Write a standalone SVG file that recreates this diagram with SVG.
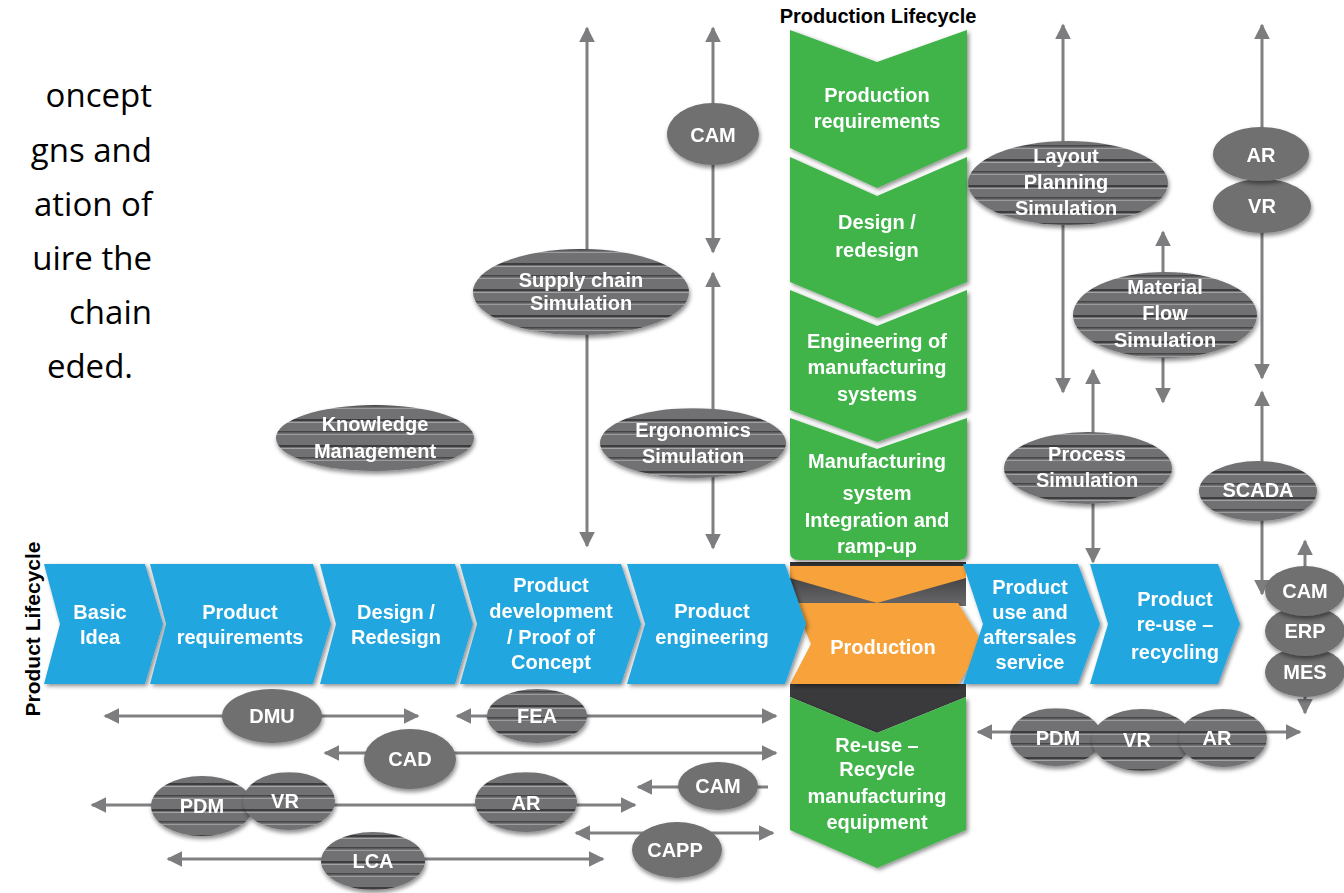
<svg xmlns="http://www.w3.org/2000/svg" width="1344" height="893" viewBox="0 0 1344 893">
<defs>
<style>
.lbl{font-family:"Liberation Sans",Arial,sans-serif;font-weight:bold;font-size:20px;fill:#fff;text-anchor:middle}
.ttl{font-family:"Liberation Sans",Arial,sans-serif;font-weight:bold;font-size:20px;fill:#000;text-anchor:middle}
.para{font-family:"Open Sans","Noto Sans",sans-serif;font-size:33px;fill:#000;text-anchor:end}
.blue{fill:#22a6df}
.green{fill:#3fb34a}
.orange{fill:#f7a23a}
.pl{fill:#6f6f71}
.st{fill:url(#stripes)}
.conn{stroke:#808082;stroke-width:3;fill:none}
.both{marker-start:url(#ah);marker-end:url(#ah)}
.end{marker-end:url(#ah)}
.start{marker-start:url(#ah)}
</style>
<pattern id="stripes" patternUnits="userSpaceOnUse" width="20" height="26">
<rect width="20" height="26" fill="#717173"/>
<rect y="3" width="20" height="2" fill="#3e3e40"/>
<rect y="6" width="20" height="1" fill="#a3a3a5"/>
<rect y="15" width="20" height="1.5" fill="#444446"/>
<rect y="18" width="20" height="1" fill="#9c9c9e"/>
</pattern>
<marker id="ah" viewBox="0 0 10 10" refX="9" refY="5" markerWidth="16" markerHeight="16" markerUnits="userSpaceOnUse" orient="auto-start-reverse">
<path d="M0,0 L10,5 L0,10 z" fill="#7d7d7f"/>
</marker>
<filter id="sh" x="-20%" y="-20%" width="140%" height="150%">
<feDropShadow dx="1" dy="3" stdDeviation="2" flood-color="#000" flood-opacity="0.45"/>
</filter>
<filter id="csh" x="-10%" y="-10%" width="120%" height="125%">
<feDropShadow dx="2" dy="2" stdDeviation="2" flood-color="#000" flood-opacity="0.45"/>
</filter>
<linearGradient id="dk" x1="0" y1="0" x2="0" y2="1">
<stop offset="0" stop-color="#2f2f31"/>
<stop offset="1" stop-color="#6a6a6c"/>
</linearGradient>
</defs>
<rect width="1344" height="893" fill="#fff"/>

<g id="paragraph">
<text class="para" x="152" y="107">oncept</text>
<text class="para" x="152" y="162">gns and</text>
<text class="para" x="152" y="216">ation of</text>
<text class="para" x="152" y="270">uire the</text>
<text class="para" x="152" y="324">chain</text>
<text class="para" x="133" y="378">eded.</text>
</g>

<g id="titles">
<text class="ttl" x="878" y="23">Production Lifecycle</text>
<text class="ttl" style="font-size:21px" transform="translate(40,629) rotate(-90)" x="0" y="0">Product Lifecycle</text>
</g>

<g id="connectors">
<line class="conn both" x1="587" y1="28" x2="587" y2="546"/>
<line class="conn both" x1="713" y1="28" x2="713" y2="252"/>
<line class="conn both" x1="713" y1="273" x2="713" y2="548"/>
<line class="conn both" x1="1063" y1="25" x2="1063" y2="392"/>
<line class="conn both" x1="1262" y1="25" x2="1262" y2="378"/>
<line class="conn both" x1="1262" y1="392" x2="1262" y2="594"/>
<line class="conn both" x1="1163" y1="232" x2="1163" y2="402"/>
<line class="conn both" x1="1093" y1="370" x2="1093" y2="562"/>
<line class="conn both" x1="1305" y1="541" x2="1305" y2="713"/>
<line class="conn both" x1="105" y1="716" x2="418" y2="716"/>
<line class="conn both" x1="457" y1="716" x2="776" y2="716"/>
<line class="conn both" x1="325" y1="753" x2="776" y2="753"/>
<line class="conn both" x1="92" y1="805" x2="635" y2="805"/>
<line class="conn start" x1="638" y1="787" x2="768" y2="787"/>
<line class="conn both" x1="576" y1="833" x2="773" y2="833"/>
<line class="conn both" x1="168" y1="859" x2="603" y2="859"/>
<line class="conn both" x1="978" y1="732" x2="1300" y2="732"/>
</g>

<g id="production-core">
<rect x="790" y="562" width="176" height="44" fill="url(#dk)"/>
<polygon class="orange" points="790,566 966,566 966,578 877,603 790,578"/>
<polygon fill="#3a3a3c" points="790,684 966,684 966,697 877,733 790,697"/>
</g>

<g id="green-production-requirements" filter="url(#csh)">
<polygon class="green" points="790,30 877,62 967,30 967,148 877,188 790,148"/>
<text class="lbl" x="877" y="102">Production</text>
<text class="lbl" x="877" y="128">requirements</text>
</g>
<g id="green-design" filter="url(#csh)">
<polygon class="green" points="790,157 877,196 967,157 967,282 877,318 790,282"/>
<text class="lbl" x="877" y="229">Design /</text>
<text class="lbl" x="877" y="257">redesign</text>
</g>
<g id="green-engineering" filter="url(#csh)">
<polygon class="green" points="790,290 877,326 967,290 967,410 877,442 790,410"/>
<text class="lbl" x="877" y="348">Engineering of</text>
<text class="lbl" x="877" y="374">manufacturing</text>
<text class="lbl" x="877" y="401">systems</text>
</g>
<g id="green-integration" filter="url(#csh)">
<path class="green" d="M790,418 L877,449 L967,418 L967,552 Q967,560 958,560 L799,560 Q790,560 790,552 Z"/>
<text class="lbl" x="877" y="468">Manufacturing</text>
<text class="lbl" x="877" y="500">system</text>
<text class="lbl" x="877" y="527">Integration and</text>
<text class="lbl" x="877" y="553">ramp-up</text>
</g>

<g id="orange-production" filter="url(#csh)">
<polygon class="orange" points="794,603 958,603 983,644 958,684 790,684 811,644"/>
<text class="lbl" x="883" y="654">Production</text>
</g>

<g id="green-reuse" filter="url(#csh)">
<polygon class="green" points="790,697 877,733 966,697 966,830 877,868 790,830"/>
<text class="lbl" x="877" y="752">Re-use –</text>
<text class="lbl" x="877" y="776">Recycle</text>
<text class="lbl" x="877" y="803">manufacturing</text>
<text class="lbl" x="877" y="829">equipment</text>
</g>

<g id="blue-basic-idea" filter="url(#csh)">
<polygon class="blue" points="44,564 145,564 163,624 145,684 44,684 60,624"/>
<text class="lbl" x="100" y="619">Basic</text>
<text class="lbl" x="100" y="644">Idea</text>
</g>
<g id="blue-product-requirements" filter="url(#csh)">
<polygon class="blue" points="150,564 313,564 331,624 313,684 150,684 166,624"/>
<text class="lbl" x="240" y="619">Product</text>
<text class="lbl" x="240" y="644">requirements</text>
</g>
<g id="blue-design" filter="url(#csh)">
<polygon class="blue" points="320,564 455,564 473,624 455,684 320,684 336,624"/>
<text class="lbl" x="396" y="619">Design /</text>
<text class="lbl" x="396" y="644">Redesign</text>
</g>
<g id="blue-product-development" filter="url(#csh)">
<polygon class="blue" points="460,564 621,564 641,624 621,684 460,684 477,624"/>
<text class="lbl" x="551" y="592">Product</text>
<text class="lbl" x="551" y="618">development</text>
<text class="lbl" x="551" y="644">/ Proof of</text>
<text class="lbl" x="551" y="669">Concept</text>
</g>
<g id="blue-product-engineering" filter="url(#csh)">
<polygon class="blue" points="627,564 785,564 806,624 785,684 627,684 645,624"/>
<text class="lbl" x="712" y="618">Product</text>
<text class="lbl" x="712" y="644">engineering</text>
</g>
<g id="blue-product-use" filter="url(#csh)">
<polygon class="blue" points="963,564 1078,564 1100,624 1078,684 963,684 983,624"/>
<text class="lbl" x="1030" y="594">Product</text>
<text class="lbl" x="1030" y="619">use and</text>
<text class="lbl" x="1030" y="644">aftersales</text>
<text class="lbl" x="1030" y="669">service</text>
</g>
<g id="blue-product-reuse" filter="url(#csh)">
<polygon class="blue" points="1090,564 1218,564 1240,624 1218,684 1090,684 1108,624"/>
<text class="lbl" x="1175" y="606">Product</text>
<text class="lbl" x="1175" y="631">re-use  –</text>
<text class="lbl" x="1175" y="659">recycling</text>
</g>

<g id="cam-top" filter="url(#sh)"><ellipse class="pl" cx="713" cy="134" rx="46" ry="31"/><text class="lbl" x="713" y="142">CAM</text></g>
<g id="supply-chain" filter="url(#sh)"><ellipse class="st" cx="581" cy="292" rx="108" ry="43"/><text class="lbl" x="581" y="287">Supply chain</text><text class="lbl" x="581" y="310">Simulation</text></g>
<g id="knowledge" filter="url(#sh)"><ellipse class="st" cx="375" cy="438" rx="99" ry="33"/><text class="lbl" x="375" y="431">Knowledge</text><text class="lbl" x="375" y="458">Management</text></g>
<g id="ergonomics" filter="url(#sh)"><ellipse class="st" cx="693" cy="443" rx="93" ry="35"/><text class="lbl" x="693" y="437">Ergonomics</text><text class="lbl" x="693" y="463">Simulation</text></g>
<g id="layout" filter="url(#sh)"><ellipse class="st" cx="1068" cy="183" rx="100" ry="42"/><text class="lbl" x="1066" y="163">Layout</text><text class="lbl" x="1066" y="189">Planning</text><text class="lbl" x="1066" y="215">Simulation</text></g>
<g id="vr-top" filter="url(#sh)"><ellipse class="pl" cx="1262" cy="206" rx="49" ry="27"/><text class="lbl" x="1262" y="213">VR</text></g>
<g id="ar-top" filter="url(#sh)"><ellipse class="pl" cx="1261" cy="154" rx="48" ry="27"/><text class="lbl" x="1261" y="162">AR</text></g>
<g id="material-flow" filter="url(#sh)"><ellipse class="st" cx="1165" cy="315" rx="92" ry="43"/><text class="lbl" x="1165" y="294">Material</text><text class="lbl" x="1165" y="320">Flow</text><text class="lbl" x="1165" y="347">Simulation</text></g>
<g id="process" filter="url(#sh)"><ellipse class="st" cx="1088" cy="468" rx="84" ry="36"/><text class="lbl" x="1087" y="461">Process</text><text class="lbl" x="1087" y="487">Simulation</text></g>
<g id="scada" filter="url(#sh)"><ellipse class="st" cx="1258" cy="491" rx="59" ry="30"/><text class="lbl" x="1258" y="497">SCADA</text></g>
<g id="mes" filter="url(#sh)"><ellipse class="pl" cx="1305" cy="672" rx="40" ry="25"/><text class="lbl" x="1305" y="679">MES</text></g>
<g id="erp" filter="url(#sh)"><ellipse class="pl" cx="1305" cy="631" rx="40" ry="25"/><text class="lbl" x="1305" y="638">ERP</text></g>
<g id="cam-right" filter="url(#sh)"><ellipse class="pl" cx="1305" cy="591" rx="40" ry="25"/><text class="lbl" x="1305" y="598">CAM</text></g>
<g id="dmu" filter="url(#sh)"><ellipse class="pl" cx="272" cy="716" rx="50" ry="27"/><text class="lbl" x="272" y="723">DMU</text></g>
<g id="fea" filter="url(#sh)"><ellipse class="st" cx="537" cy="716" rx="50" ry="27"/><text class="lbl" x="537" y="723">FEA</text></g>
<g id="cad" filter="url(#sh)"><ellipse class="pl" cx="410" cy="759" rx="46" ry="30"/><text class="lbl" x="410" y="766">CAD</text></g>
<g id="pdm-left" filter="url(#sh)"><ellipse class="st" cx="202" cy="806" rx="51" ry="30"/><text class="lbl" x="202" y="813">PDM</text></g>
<g id="vr-left" filter="url(#sh)"><ellipse class="st" cx="289" cy="801" rx="46" ry="29"/><text class="lbl" x="285" y="808">VR</text></g>
<g id="ar-bottom" filter="url(#sh)"><ellipse class="st" cx="526" cy="802" rx="51" ry="30"/><text class="lbl" x="526" y="810">AR</text></g>
<g id="cam-bottom" filter="url(#sh)"><ellipse class="pl" cx="718" cy="786" rx="40" ry="24"/><text class="lbl" x="718" y="793">CAM</text></g>
<g id="capp" filter="url(#sh)"><ellipse class="pl" cx="677" cy="850" rx="45" ry="28"/><text class="lbl" x="675" y="857">CAPP</text></g>
<g id="lca" filter="url(#sh)"><ellipse class="st" cx="373" cy="861" rx="52" ry="29"/><text class="lbl" x="373" y="868">LCA</text></g>
<g id="pdm-right" filter="url(#sh)"><ellipse class="st" cx="1056" cy="737" rx="46" ry="29"/><text class="lbl" x="1058" y="745">PDM</text></g>
<g id="vr-right" filter="url(#sh)"><ellipse class="st" cx="1142" cy="740" rx="50" ry="31"/><text class="lbl" x="1137" y="747">VR</text></g>
<g id="ar-right" filter="url(#sh)"><ellipse class="st" cx="1223" cy="738" rx="44" ry="29"/><text class="lbl" x="1217" y="745">AR</text></g>
</svg>
